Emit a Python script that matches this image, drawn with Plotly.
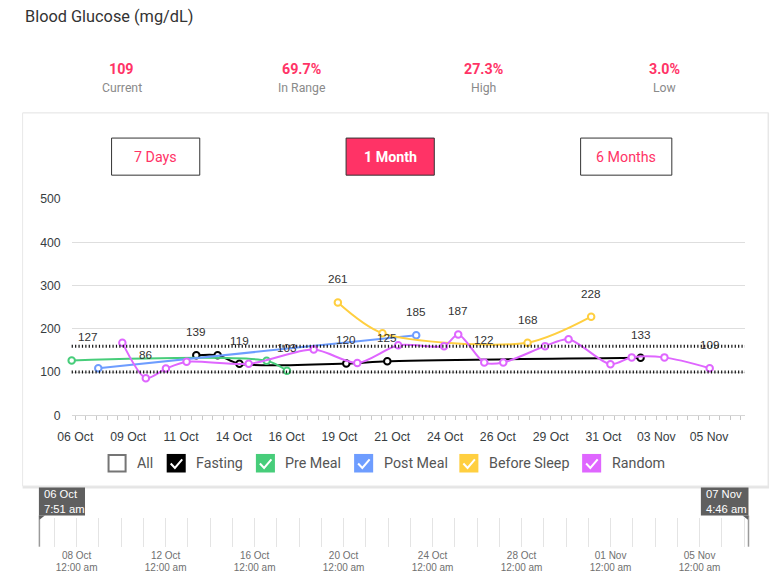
import plotly.graph_objects as go

# Figure size and the measured mapping from figure pixels to the photographed picture
W, H = 765, 570
OFF = 8
KX, CX = 0.9795, 14.3
KY, CY = 0.9727, 8.0
FS = 1.02  # font compensation for the small downscale

# ---------------- data ----------------
fasting_dates = ["2023-10-12 05:25", "2023-10-13 05:40", "2023-10-14 06:25",
                 "2023-10-19 07:50", "2023-10-21 06:25", "2023-11-02 06:10"]
fasting_vals = [139, 139, 119, 120, 125, 133]
fasting_labels = ["139", "", "119", "120", "125", "133"]

premeal_dates = ["2023-10-06 07:51", "2023-10-15 13:20", "2023-10-16 12:25"]
premeal_vals = [127, 126, 103]
premeal_labels = ["127", "", "103"]

postmeal_dates = ["2023-10-07 14:05", "2023-10-22 15:15"]
postmeal_vals = [109, 185]
postmeal_labels = ["", "185"]

sleep_dates = ["2023-10-18 22:15", "2023-10-21 00:55", "2023-10-27 21:45", "2023-10-30 22:00"]
sleep_vals = [261, 190, 168, 228]
sleep_labels = ["261", "", "168", "228"]

random_dates = ["2023-10-08 17:25", "2023-10-09 20:05", "2023-10-10 18:55", "2023-10-11 18:25",
                "2023-10-14 16:55", "2023-10-17 18:50", "2023-10-19 20:20", "2023-10-21 18:50",
                "2023-10-23 22:55", "2023-10-24 15:00", "2023-10-25 20:35", "2023-10-26 18:10",
                "2023-10-28 17:40", "2023-10-29 20:20", "2023-10-31 19:55", "2023-11-01 20:05",
                "2023-11-03 09:15", "2023-11-05 12:40"]
random_vals = [168, 86, 108, 124, 119, 152, 121, 162, 160, 187, 122, 122, 160, 176, 118, 134, 134, 109]
random_labels = ["", "86", "", "", "", "", "", "", "", "187", "122", "", "", "", "", "", "", "109"]

series_names = ["Fasting", "Pre Meal", "Post Meal", "Before Sleep", "Random"]
series_colors = ["#000000", "#47CD7A", "#6E9DFF", "#FFCF40", "#DF66FF"]

target_range = [100, 160]

x_range = ["2023-10-06 07:51", "2023-11-07 04:46"]
x_tickvals = ["2023-10-06 12:00", "2023-10-09 00:00", "2023-10-11 12:00", "2023-10-14 00:00",
              "2023-10-16 12:00", "2023-10-19 00:00", "2023-10-21 12:00", "2023-10-24 00:00",
              "2023-10-26 12:00", "2023-10-29 00:00", "2023-10-31 12:00", "2023-11-03 00:00",
              "2023-11-05 12:00"]
x_ticktext = ["06 Oct", "09 Oct", "11 Oct", "14 Oct", "16 Oct", "19 Oct", "21 Oct", "24 Oct",
              "26 Oct", "29 Oct", "31 Oct", "03 Nov", "05 Nov"]
y_tickvals = [0, 100, 200, 300, 400, 500]

slider_tickvals = ["2023-10-08", "2023-10-12", "2023-10-16", "2023-10-20",
                   "2023-10-24", "2023-10-28", "2023-11-01", "2023-11-05"]
slider_dates_text = ["08 Oct", "12 Oct", "16 Oct", "20 Oct", "24 Oct", "28 Oct", "01 Nov", "05 Nov"]
slider_times_text = ["12:00 am"] * 8
slider_start_label = "06 Oct<br>7:51 am"
slider_end_label = "07 Nov<br>4:46 am"

stat_values = ["109", "69.7%", "27.3%", "3.0%"]
stat_names = ["Current", "In Range", "High", "Low"]
buttons = ["7 Days", "1 Month", "6 Months"]
legend_items = ["All"] + series_names

PINK = "#FF3366"
AX_FONT = "Liberation Sans, Arial, sans-serif"
UI_FONT = "Roboto, sans-serif"


def px(x):
    v = ((x - CX) / KX - OFF) / W
    return min(max(v, 0.0008), 0.9992)


def py(y):
    v = 1 - ((y - CY) / KY - OFF) / H
    return min(max(v, 0.0008), 0.9992)


fig = go.Figure()

all_series = [
    (fasting_dates, fasting_vals, fasting_labels),
    (premeal_dates, premeal_vals, premeal_labels),
    (postmeal_dates, postmeal_vals, postmeal_labels),
    (sleep_dates, sleep_vals, sleep_labels),
    (random_dates, random_vals, random_labels),
]

annotations = []
for (d, v, lab), name, col in zip(all_series, series_names, series_colors):
    fig.add_trace(go.Scatter(
        x=d, y=v, name=name, mode="lines+markers",
        line=dict(color=col, width=2, shape="spline", smoothing=0.8),
        marker=dict(size=6.5, color="white", line=dict(color=col, width=2)),
        showlegend=False, cliponaxis=False,
    ))
    for i, (dd, vv, ll) in enumerate(zip(d, v, lab)):
        if ll:
            annotations.append(dict(
                x=dd, y=vv, xref="x", yref="y", text=ll, showarrow=False,
                yshift=23.5, xshift=16 if (name == "Pre Meal" and i == 0) else 0,
                font=dict(family=AX_FONT, size=11.5 * FS, color="#333333"),
            ))

fig.add_trace(go.Scatter(x=[], y=[], xaxis="x2", yaxis="y2", showlegend=False))
fig.add_trace(go.Scatter(x=[], y=[], xaxis="x4", yaxis="y2", showlegend=False))

shapes = []
shapes.append(dict(type="rect", xref="paper", yref="paper", x0=px(14), x1=px(767.5), y0=py(488),
                   y1=py(113), line=dict(width=0), fillcolor="rgba(0,0,0,0.10)", layer="below"))
shapes.append(dict(type="rect", xref="paper", yref="paper", x0=px(14.5), x1=px(766.5), y0=py(485.5),
                   y1=py(113.5), line=dict(width=1, color="#e8e8e8"), fillcolor="white", layer="below"))

for t in target_range:
    shapes.append(dict(type="line", xref="x domain", yref="y", x0=0, x1=1, y0=t, y1=t,
                       line=dict(color="#111111", width=3, dash="1.2px,2.2px")))

btn_boxes = [(111.5, 199.5), (345.5, 433.5), (579.5, 670.5)]
for (x0, x1), label in zip(btn_boxes, buttons):
    active = label == "1 Month"
    shapes.append(dict(type="rect", xref="paper", yref="paper", x0=px(x0), x1=px(x1),
                       y0=py(175.5), y1=py(138.5),
                       line=dict(color="#333333", width=1),
                       fillcolor=PINK if active else "white"))
    annotations.append(dict(x=px((x0 + x1) / 2), y=py(157), xref="paper", yref="paper",
                            text=label, showarrow=False, xanchor="center", yanchor="middle",
                            font=dict(family=UI_FONT, size=14 * FS,
                                      color="white" if active else PINK,
                                      weight="bold" if active else "normal")))

annotations.append(dict(x=px(15), y=py(17), xref="paper", yref="paper", text="Blood Glucose (mg/dL)",
                        showarrow=False, xanchor="left", yanchor="middle",
                        font=dict(family=UI_FONT, size=16 * FS, color="#333333")))

stat_x = [121.5, 301.5, 483, 663.5]
for sx, val, nm in zip(stat_x, stat_values, stat_names):
    annotations.append(dict(x=px(sx), y=py(70), xref="paper", yref="paper", text=val,
                            showarrow=False, xanchor="center", yanchor="middle",
                            font=dict(family=UI_FONT, size=14 * FS, color=PINK, weight="bold")))
    annotations.append(dict(x=px(sx), y=py(88.5), xref="paper", yref="paper", text=nm,
                            showarrow=False, xanchor="center", yanchor="middle",
                            font=dict(family=UI_FONT, size=12 * FS, color="#8a8a8a")))

leg_box_x = [107.5, 166.5, 255.5, 353.5, 458.5, 581]
leg_colors = [None] + series_colors
for bx, name, col in zip(leg_box_x, legend_items, leg_colors):
    y0, y1 = 453.5, 472
    if col is None:
        shapes.append(dict(type="rect", xref="paper", yref="paper", x0=px(bx + 1), x1=px(bx + 18),
                           y0=py(y1 - 1), y1=py(y0 + 1), line=dict(color="#757575", width=2),
                           fillcolor="white"))
    else:
        shapes.append(dict(type="rect", xref="paper", yref="paper", x0=px(bx), x1=px(bx + 19),
                           y0=py(y1), y1=py(y0), line=dict(width=0), fillcolor=col))
        path = "M {},{} L {},{} L {},{}".format(px(bx + 4), py(y0 + 9.5), px(bx + 8.2), py(y0 + 14),
                                                px(bx + 15.5), py(y0 + 5.5))
        shapes.append(dict(type="path", xref="paper", yref="paper", path=path,
                           line=dict(color="white", width=2)))
    annotations.append(dict(x=px(bx + 27.5), y=py(462.5), xref="paper", yref="paper", text=name,
                            showarrow=False, xanchor="left", yanchor="middle",
                            font=dict(family=UI_FONT, size=14 * FS, color="#555555")))

SL_TOP, SL_BOT = 517, 546
for hx in (39.5, 747):
    shapes.append(dict(type="line", xref="paper", yref="paper", x0=px(hx), x1=px(hx),
                       y0=py(SL_BOT), y1=py(515), line=dict(color="#9a9a9a", width=1.5)))
shapes.append(dict(type="rect", xref="paper", yref="paper", x0=px(39), x1=px(85), y0=py(515),
                   y1=py(487), line=dict(width=0), fillcolor="#5f5f5f"))
shapes.append(dict(type="path", xref="paper", yref="paper",
                   path="M {},{} L {},{} L {},{} Z".format(px(39), py(515), px(45), py(515), px(39.5), py(519)),
                   line=dict(width=0), fillcolor="#5f5f5f"))
shapes.append(dict(type="rect", xref="paper", yref="paper", x0=px(699.5), x1=px(747), y0=py(515),
                   y1=py(487), line=dict(width=0), fillcolor="#5f5f5f"))
shapes.append(dict(type="path", xref="paper", yref="paper",
                   path="M {},{} L {},{} L {},{} Z".format(px(741), py(515), px(747), py(515), px(746.5), py(519)),
                   line=dict(width=0), fillcolor="#5f5f5f"))
annotations.append(dict(x=px(42), y=py(501), xref="paper", yref="paper", text=slider_start_label,
                        showarrow=False, xanchor="left", yanchor="middle", align="left",
                        font=dict(family=AX_FONT, size=11 * FS, color="white")))
annotations.append(dict(x=px(703), y=py(501), xref="paper", yref="paper", text=slider_end_label,
                        showarrow=False, xanchor="left", yanchor="middle", align="left",
                        font=dict(family=AX_FONT, size=11 * FS, color="white")))

TICK_GRAY = "#c8c8c8"
fig.update_layout(
    width=W, height=H,
    margin=dict(l=0, r=0, t=0, b=0),
    paper_bgcolor="white", plot_bgcolor="rgba(0,0,0,0)",
    shapes=shapes, annotations=annotations,
    xaxis=dict(
        type="date", domain=[px(71.7), px(743.5)], range=x_range, anchor="y",
        tickmode="array", tickvals=x_tickvals, ticktext=x_ticktext,
        ticks="outside", ticklen=4, tickcolor=TICK_GRAY, tickwidth=1,
        minor=dict(ticks="outside", ticklen=4, tickcolor=TICK_GRAY, tickmode="linear",
                   tick0="2023-10-06 00:00", dtick=43200000, showgrid=False),
        showgrid=False, showline=True, linecolor="#d6d6d6", zeroline=False,
        tickfont=dict(family=AX_FONT, size=12 * FS, color="#373d3f"), ticklabelstandoff=6,
    ),
    xaxis3=dict(
        type="date", overlaying="x", range=x_range, anchor="y",
        tickmode="array", tickvals=x_tickvals, showticklabels=False,
        ticks="inside", ticklen=4, tickcolor=TICK_GRAY, tickwidth=1,
        minor=dict(ticks="inside", ticklen=4, tickcolor=TICK_GRAY, tickmode="linear",
                   tick0="2023-10-06 00:00", dtick=43200000, showgrid=False),
        showgrid=False, showline=False, zeroline=False,
    ),
    yaxis=dict(
        domain=[py(415), py(199.3)], range=[0, 500], tickmode="array", tickvals=y_tickvals,
        showgrid=True, gridcolor="#dedede", gridwidth=1, zeroline=False, showline=False,
        ticks="", tickfont=dict(family=AX_FONT, size=12 * FS, color="#373d3f"), ticklabelstandoff=10,
    ),
    xaxis2=dict(
        type="date", domain=[px(39.5), px(747)], range=x_range, anchor="y2",
        tickmode="array", tickvals=slider_tickvals, ticktext=slider_dates_text,
        ticks="", showgrid=True, gridcolor="#e4e4e4", gridwidth=1,
        minor=dict(tickmode="linear", tick0="2023-10-06 00:00", dtick=86400000,
                   showgrid=True, gridcolor="#e4e4e4", gridwidth=1),
        showline=False, zeroline=False,
        tickfont=dict(family=AX_FONT, size=10, color="#707070"), ticklabelstandoff=1,
    ),
    xaxis4=dict(
        type="date", overlaying="x2", range=x_range, anchor="y2",
        tickmode="array", tickvals=slider_tickvals, ticktext=slider_times_text,
        ticks="", showgrid=False, showline=False, zeroline=False,
        tickfont=dict(family=AX_FONT, size=10, color="#707070"), ticklabelstandoff=13,
    ),
    yaxis2=dict(domain=[py(SL_BOT), py(SL_TOP)], range=[0, 1], visible=False, showgrid=False),
)

fig.write_html("out.html", config={"displayModeBar": False})
